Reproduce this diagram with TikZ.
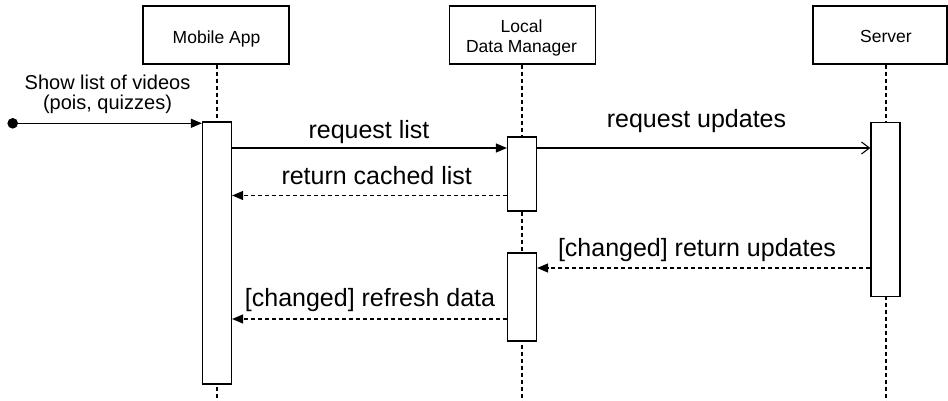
\documentclass[tikz,border=0pt]{standalone}
\usepackage{fontspec}
\setmainfont{Liberation Sans}
\usetikzlibrary{arrows.meta}
\begin{document}
\begin{tikzpicture}[x=1pt,y=-1pt,line width=1.2pt,
  header/.style={draw,fill=white,minimum width=146pt,minimum height=58pt,inner sep=0pt},
  htext/.style={anchor=base,inner sep=0pt,font=\fontsize{17.5}{20}\selectfont,align=center},
  act/.style={draw,fill=white,minimum width=29pt,inner sep=0pt},
  lifeline/.style={dash pattern=on 4pt off 3pt,line width=1.1pt},
  msg/.style={-{Triangle[length=11pt,width=9pt]}},
  reply/.style={dash pattern=on 4pt off 3pt,-{Triangle[length=11pt,width=9pt]}},
  async/.style={-{Straight Barb[length=8pt,width=12pt,line width=1.1pt]}},
  lbl/.style={anchor=base,inner sep=0pt,font=\fontsize{25}{30}\selectfont},
  slbl/.style={anchor=base,inner sep=0pt,font=\fontsize{20}{20}\selectfont,align=center}]
\useasboundingbox (0,0) rectangle (948,401);
% headers
\node[header] (app) at (216,35) {};
\node[header] (ldm) at (522.5,35) {};
\node[header,minimum width=134pt] (srv) at (880,35) {};
\node[htext] (appT) at (216.5,43.5) {Mobile App};
\node[htext] (ldmT) at (521.5,53) {Local\\Data Manager};
\node[htext] (srvT) at (886,42.5) {Server};
% lifeline ends
\coordinate (appEnd) at (217,401);
\coordinate (ldmEnd) at (522,401);
\coordinate (srvEnd) at (886,401);
\draw[lifeline] (app.south -| appEnd) -- (appEnd);
\draw[lifeline] (ldm.south -| ldmEnd) -- (ldmEnd);
\draw[lifeline] (srv.south -| srvEnd) -- (srvEnd);
% activations
\node[act,minimum height=262pt] (actA) at (217,253) {};
\node[act,minimum height=74pt] (actB1) at (522,174) {};
\node[act,minimum height=88pt] (actB2) at (522,297) {};
\node[act,minimum height=174pt] (actC) at (885.5,209.6) {};
% message rows
\coordinate (start) at (12.7,123.3);
\coordinate (y1) at (0,148);
\coordinate (y2) at (0,195.5);
\coordinate (y3) at (0,148);
\coordinate (y4) at (0,268);
\coordinate (y5) at (0,319);
\fill (start) circle (5.3pt);
\draw[msg] (start) -- (actA.west |- start);
\draw[msg] (actA.east |- y1) -- (actB1.west |- y1);
\draw[reply] (actB1.west |- y2) -- (actA.east |- y2);
\draw[async] (actB1.east |- y3) -- (actC.west |- y3);
\draw[reply] (actC.west |- y4) -- (actB2.east |- y4);
\draw[reply] (actB2.west |- y5) -- (actA.east |- y5);
% labels
\node[slbl] (l0) at (107.5,109.3) {Show list of videos\\(pois, quizzes)};
\node[lbl] (l1) at (369,138.3) {request list};
\node[lbl] (l2) at (376.7,185) {return cached list};
\node[lbl] (l3) at (696.5,127.7) {request updates};
\node[lbl] (l4) at (697,256.7) {[changed] return updates};
\node[lbl] (l5) at (370,306.7) {[changed] refresh data};
\end{tikzpicture}
\end{document}
